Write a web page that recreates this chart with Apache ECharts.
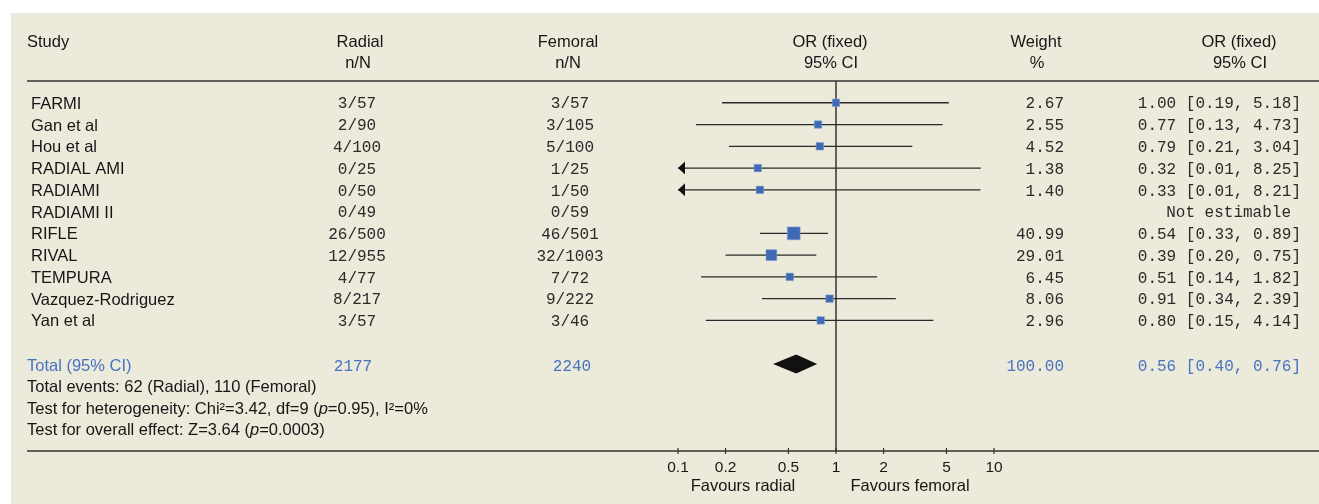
<!DOCTYPE html>
<html><head><meta charset="utf-8">
<script src="https://cdn.jsdelivr.net/npm/echarts@6/dist/echarts.min.js"></script>
<style>html,body{margin:0;padding:0;background:#fff}#c{width:1319px;height:504px}</style>
</head><body><div id="c"></div>
<script>
// ---------------- data ----------------
const studies = ['FARMI','Gan et al','Hou et al','RADIAL AMI','RADIAMI','RADIAMI II','RIFLE','RIVAL','TEMPURA','Vazquez-Rodriguez','Yan et al'];
const radialNN = ['3/57','2/90','4/100','0/25','0/50','0/49','26/500','12/955','4/77','8/217','3/57'];
const femoralNN = ['3/57','3/105','5/100','1/25','1/50','0/59','46/501','32/1003','7/72','9/222','3/46'];
const weights = [2.67,2.55,4.52,1.38,1.40,null,40.99,29.01,6.45,8.06,2.96];
const oddsRatio = [1.00,0.77,0.79,0.32,0.33,null,0.54,0.39,0.51,0.91,0.80];
const ciLower = [0.19,0.13,0.21,0.01,0.01,null,0.33,0.20,0.14,0.34,0.15];
const ciUpper = [5.18,4.73,3.04,8.25,8.21,null,0.89,0.75,1.82,2.39,4.14];

const totalRadialN = 2177;
const totalFemoralN = 2240;
const totalWeight = 100.00;
const totalOR = [0.56, 0.40, 0.76];   // estimate, lower, upper
const totalEvents = {radial: 62, femoral: 110};
const heterogeneity = {chi2: '3.42', df: 9, p: '0.95', i2: '0%'};
const overallEffect = {z: '3.64', p: '0.0003'};

const tickLabels = [0.1, 0.2, 0.5, 1, 2, 5, 10];
const axisRange = [0.1, 10];

// ---------------- style ----------------
const SANS = '"Liberation Sans", Arial, Helvetica, sans-serif';
const MONO = '"Liberation Mono", "DejaVu Sans Mono", monospace';
const BG = '#ECEADA';
const INK = '#161616';
const MONO_INK = '#2a2a2a';
const BLUE = '#4873C0';
const SQUARE = '#3D69B5';
const LINE = '#2a2a2a';
const SANS_SIZE = 16.5;
const TY = 1.5;               // small vertical nudge for text baselines
const ROW_TOTAL = 13;
const COL = {study: 31, total: 27, radial: 357, femoral: 570, weight: 1064, orci: 1301, ne: 1291};

const lg = v => Math.log10(v);
const f2 = v => v.toFixed(2);
const orText = (o, l, u) => `${f2(o)} [${f2(l)}, ${f2(u)}]`;

function txt(x, y, text, opt) {
  opt = opt || {};
  const align = opt.align || 'left';
  return {
    type: 'text', x: x, y: y + TY, silent: true,
    style: Object.assign({
      text: text, fill: opt.fill || INK,
      fontSize: opt.size || SANS_SIZE, fontFamily: opt.family || SANS,
      align: align, textAlign: align,
      verticalAlign: 'middle', textVerticalAlign: 'middle'
    }, opt.extra || {})
  };
}
const mono = (x, y, t, align, fill) => txt(x, y, t, {family: MONO, size: 16, align: align, fill: fill || MONO_INK});

// ---------------- series data ----------------
const forestData = [];
oddsRatio.forEach((o, i) => {
  if (o == null) return;
  forestData.push([lg(o), i + 1, lg(ciLower[i]), lg(ciUpper[i]), weights[i]]);
});
const tableData = studies.map((s, i) => [0, i + 1]);
const tickLog = tickLabels.map(lg);
const tickData = tickLog.map(v => [v, 17]);

function renderForest(params, api) {
  const row = api.value(1);
  const x = api.value(0), lo = api.value(2), hi = api.value(3), w = api.value(4);
  const xmin = lg(axisRange[0]), xmax = lg(axisRange[1]);
  const pL = api.coord([Math.max(lo, xmin), row]);
  const pR = api.coord([Math.min(hi, xmax), row]);
  const pC = api.coord([x, row]);
  const children = [{
    type: 'line', shape: {x1: pL[0], y1: pL[1], x2: pR[0], y2: pR[1]},
    style: {stroke: LINE, lineWidth: 1.3}
  }];
  if (lo < xmin) {
    children.push({type: 'polygon', shape: {points: [[pL[0], pL[1]], [pL[0] + 7, pL[1] - 6.5], [pL[0] + 7, pL[1] + 6.5]]}, style: {fill: '#111'}});
  }
  if (hi > xmax) {
    children.push({type: 'polygon', shape: {points: [[pR[0], pR[1]], [pR[0] - 7, pR[1] - 6.5], [pR[0] - 7, pR[1] + 6.5]]}, style: {fill: '#111'}});
  }
  const s = Math.max(7.4, 2 * Math.sqrt(w));
  children.push({type: 'rect', shape: {x: pC[0] - s / 2, y: pC[1] - s / 2, width: s, height: s}, style: {fill: SQUARE, stroke: '#7f9ccc', lineWidth: 0.6}});
  return {type: 'group', children: children};
}

function renderTable(params, api) {
  const i = params.dataIndex;
  const y = api.coord([0, api.value(1)])[1];
  const ch = [
    txt(COL.study, y, studies[i]),
    mono(COL.radial, y, radialNN[i], 'center'),
    mono(COL.femoral, y, femoralNN[i], 'center')
  ];
  if (weights[i] != null) ch.push(mono(COL.weight, y, f2(weights[i]), 'right'));
  if (oddsRatio[i] != null) ch.push(mono(COL.orci, y, orText(oddsRatio[i], ciLower[i], ciUpper[i]), 'right'));
  else ch.push(mono(COL.ne, y, 'Not estimable', 'right'));
  return {type: 'group', children: ch};
}

function renderTotal(params, api) {
  const row = api.value(1);
  const pL = api.coord([api.value(2), row]);
  const pC = api.coord([api.value(0), row]);
  const pR = api.coord([api.value(3), row]);
  const h = 9.5;
  const y = pC[1];
  return {type: 'group', children: [
    {type: 'polygon', shape: {points: [[pL[0], y], [pC[0], y - h], [pR[0], y], [pC[0], y + h]]}, style: {fill: '#111'}},
    txt(COL.total, y + 1, 'Total (95% CI)', {fill: BLUE}),
    mono(COL.radial - 4, y + 1, String(totalRadialN), 'center', BLUE),
    mono(COL.femoral + 2, y + 1, String(totalFemoralN), 'center', BLUE),
    mono(COL.weight, y + 1, f2(totalWeight), 'right', BLUE),
    mono(COL.orci, y + 1, orText(totalOR[0], totalOR[1], totalOR[2]), 'right', BLUE)
  ]};
}

function renderTick(params, api) {
  const p = api.coord([api.value(0), api.value(1)]);
  return {type: 'line', shape: {x1: p[0], y1: p[1] - 3, x2: p[0], y2: p[1] + 3}, style: {stroke: '#333', lineWidth: 1.2}};
}

// ---------------- graphic (headers, rules, footers) ----------------
const richI = {i: {fontStyle: 'italic', fontSize: SANS_SIZE, fontFamily: SANS, fill: INK}};
const graphicEls = [
  {type: 'rect', z: -100, silent: true, shape: {x: 11, y: 13, width: 1308, height: 491}, style: {fill: BG}},
  txt(27, 41, 'Study'),
  txt(360, 41, 'Radial', {align: 'center'}), txt(358, 62, 'n/N', {align: 'center'}),
  txt(568, 41, 'Femoral', {align: 'center'}), txt(568, 62, 'n/N', {align: 'center'}),
  txt(830, 41, 'OR (fixed)', {align: 'center'}), txt(831, 62, '95% CI', {align: 'center'}),
  txt(1036, 41, 'Weight', {align: 'center'}), txt(1037, 62, '%', {align: 'center'}),
  txt(1239, 41, 'OR (fixed)', {align: 'center'}), txt(1240, 62, '95% CI', {align: 'center'}),
  {type: 'line', silent: true, shape: {x1: 27, y1: 81, x2: 1319, y2: 81}, style: {stroke: '#333', lineWidth: 1.5}},
  {type: 'line', silent: true, shape: {x1: 27, y1: 451, x2: 1319, y2: 451}, style: {stroke: '#333', lineWidth: 1.5}},
  txt(27, 386, `Total events: ${totalEvents.radial} (Radial), ${totalEvents.femoral} (Femoral)`),
  txt(27, 408, `Test for heterogeneity: Chi²=${heterogeneity.chi2}, df=${heterogeneity.df} ({i|p}=${heterogeneity.p}), I²=${heterogeneity.i2}`, {extra: {rich: richI}}),
  txt(27, 429, `Test for overall effect: Z=${overallEffect.z} ({i|p}=${overallEffect.p})`, {extra: {rich: richI}}),
  txt(743, 485, 'Favours radial', {align: 'center'}),
  txt(910, 485, 'Favours femoral', {align: 'center'})
];

// ---------------- chart ----------------
const fmtTick = v => String(Number(Math.pow(10, v).toPrecision(3)));
const chart = echarts.init(document.getElementById('c'));
chart.setOption({
  animation: false,
  backgroundColor: '#ffffff',
  grid: {left: 678, right: 325, top: 81, height: 370, containLabel: false},
  xAxis: {
    type: 'value', min: lg(axisRange[0]), max: lg(axisRange[1]), position: 'bottom',
    axisLine: {show: false}, splitLine: {show: false},
    axisTick: {show: false},
    axisLabel: {show: true, customValues: tickLog, formatter: fmtTick, margin: 9, color: INK, fontSize: 15.5, fontFamily: SANS}
  },
  yAxis: {type: 'value', min: 0, max: 17, inverse: true, show: false},
  graphic: {elements: graphicEls},
  series: [{
    type: 'custom', name: 'studies', renderItem: renderForest, data: forestData, z: 5, silent: true,
    markLine: {silent: true, symbol: ['none', 'none'], label: {show: false},
      lineStyle: {color: '#333', width: 1.5, type: 'solid'}, data: [{xAxis: 0}]}
  }, {
    type: 'custom', name: 'table', renderItem: renderTable, data: tableData, silent: true
  }, {
    type: 'custom', name: 'total', renderItem: renderTotal,
    data: [[lg(totalOR[0]), ROW_TOTAL, lg(totalOR[1]), lg(totalOR[2])]], silent: true, z: 5
  }, {
    type: 'custom', name: 'ticks', renderItem: renderTick, data: tickData, silent: true, z: 6
  }]
});
</script></body></html>
